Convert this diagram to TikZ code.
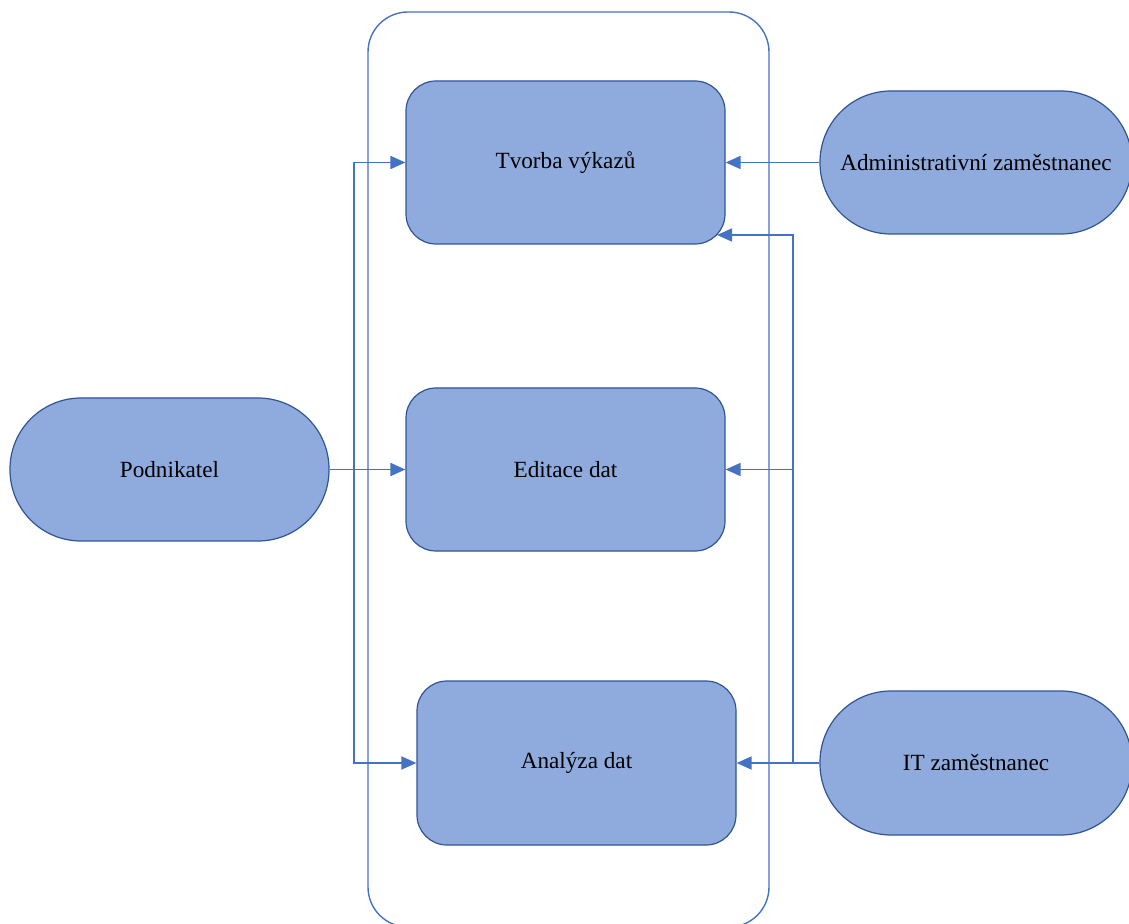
\documentclass[tikz,border=0pt]{standalone}
\usepackage{fontspec}
\setmainfont{Liberation Serif}
\usetikzlibrary{arrows.meta}
\definecolor{boxfill}{RGB}{143,170,220}
\definecolor{boxline}{RGB}{47,85,151}
\definecolor{conn}{RGB}{68,114,196}
\tikzset{
  proc/.style={draw=boxline, fill=boxfill, line width=0.6pt, rounded corners=15pt, inner sep=0pt,
    minimum width=159.5pt, minimum height=81.5pt, font=\fontsize{11.6}{14}\selectfont},
  actor/.style={draw=boxline, fill=boxfill, line width=0.6pt, rounded corners=35.5pt, inner sep=0pt,
    minimum height=71.5pt, font=\fontsize{11.6}{14}\selectfont},
  arr/.style={draw=conn, line width=0.9pt, -{Triangle[length=7.5pt,width=6.5pt]}},
  frame/.style={draw=conn, line width=0.7pt, rounded corners=20pt}
}
\begin{document}
\begin{tikzpicture}[x=0.5pt,y=-0.5pt]
\useasboundingbox (0,0) rectangle (1129,924);
\clip (0,0) rectangle (1129,924);
\node[frame, minimum width=200.5pt, minimum height=457.5pt, inner sep=0pt] (sys) at (568.5,469.5) {};
\node[proc] (tvorba) at (565.5,162.5) {Tvorba výkazů};
\node[proc] (edit) at (565.5,469.5) {Editace dat};
\node[proc, minimum height=82pt] (anal) at (576.5,763) {Analýza dat};
\node[actor, minimum width=159.5pt] (pod) at (169.5,469.5) {Podnikatel};
\node[actor, minimum width=156pt] (admin) at (976,162.5) {Administrativní zaměstnanec};
\node[actor, minimum width=156pt, minimum height=72pt] (it) at (976,763) {IT zaměstnanec};
\coordinate (j1) at (354,469.5);
\coordinate (j2) at (793,763);
\coordinate (tc) at (717,235);
\draw[arr] (pod.east) -- (edit.west);
\draw[arr] (j1) |- (tvorba.west);
\draw[arr] (j1) |- (anal.west);
\draw[arr] (admin.west) -- (tvorba.east);
\draw[arr] (it.west) -- (anal.east);
\draw[arr] (j2) |- (edit.east);
\draw[arr] (j2) |- (tc);
\end{tikzpicture}
\end{document}
